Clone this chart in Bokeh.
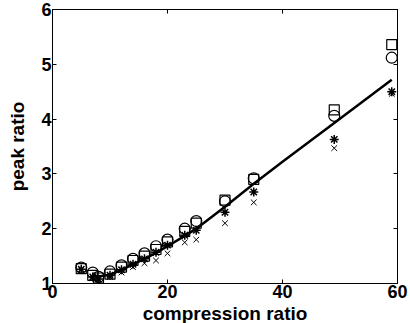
from bokeh.plotting import figure
from bokeh.models import LinearAxis, FixedTicker, Range1d
from bokeh.embed import file_html
from bokeh.resources import INLINE

cr = [5, 7, 8, 10, 12, 14, 16, 18, 20, 23, 25, 30, 35, 49, 59]
square_vals = [1.27, 1.15, 1.10, 1.17, 1.30, 1.42, 1.50, 1.62, 1.76, 1.95, 2.10, 2.52, 2.90, 4.17, 5.36]
circle_vals = [1.29, 1.20, 1.12, 1.22, 1.33, 1.45, 1.55, 1.68, 1.80, 2.00, 2.14, 2.50, 2.92, 4.06, 5.12]
star_vals = [1.26, 1.12, 1.08, 1.15, 1.25, 1.35, 1.45, 1.57, 1.70, 1.88, 1.97, 2.30, 2.67, 3.63, 4.50]
x_vals = [1.25, 1.10, 1.05, 1.12, 1.20, 1.30, 1.37, 1.42, 1.55, 1.75, 1.80, 2.10, 2.48, 3.47, 4.46]
fit_x = [7, 8, 10, 12, 14, 16, 18, 20, 23, 25, 30, 35, 40, 49, 59]
fit_y = [1.15, 1.13, 1.16, 1.25, 1.35, 1.45, 1.56, 1.68, 1.87, 2.00, 2.40, 2.82, 3.22, 3.93, 4.72]
x_ticks = [0, 20, 40, 60]
y_ticks = [1, 2, 3, 4, 5, 6]

FONT = "Liberation Sans"

p = figure(frame_width=345, frame_height=274, output_backend="svg", toolbar_location=None,
           x_range=Range1d(0, 60), y_range=Range1d(1, 6),
           min_border_left=52, min_border_right=13, min_border_top=9, min_border_bottom=40)
p.background_fill_color = "white"
p.border_fill_color = "white"
p.outline_line_color = "black"
p.outline_line_width = 1
p.xgrid.visible = False
p.ygrid.visible = False

p.line(fit_x, fit_y, line_color="black", line_width=2.5)
p.scatter(cr, square_vals, marker="square", size=10, fill_color=None, line_color="black", line_width=1.2)
p.scatter(cr, circle_vals, marker="circle", size=11, fill_color=None, line_color="black", line_width=1.2)
p.scatter(cr, star_vals, marker="asterisk", size=9, line_color="black", line_width=1.5)
p.scatter(cr, x_vals, marker="x", size=8, line_color="black", line_width=1)

for ax in (p.xaxis[0], p.yaxis[0]):
    ax.major_label_text_font = FONT
    ax.major_label_text_font_style = "bold"
    ax.major_label_text_font_size = "18px"
    ax.major_label_text_color = "black"
    ax.axis_label_text_font = FONT
    ax.axis_label_text_font_style = "bold"
    ax.axis_label_text_font_size = "19px"
    ax.axis_label_text_color = "black"
    ax.major_tick_in = 4
    ax.major_tick_out = 0
    ax.minor_tick_line_color = None
    ax.axis_line_color = "black"
    ax.major_label_standoff = 1

p.xaxis[0].axis_label_standoff = 2
p.yaxis[0].axis_label_standoff = 10
p.xaxis[0].ticker = FixedTicker(ticks=x_ticks)
p.yaxis[0].ticker = FixedTicker(ticks=y_ticks)
p.xaxis[0].axis_label = "compression ratio"
p.yaxis[0].axis_label = "peak ratio"

top = LinearAxis(ticker=FixedTicker(ticks=x_ticks),
                 major_label_overrides={t: "" for t in x_ticks},
                 major_tick_in=4, major_tick_out=0, minor_tick_line_color=None,
                 major_label_standoff=0)
right = LinearAxis(ticker=FixedTicker(ticks=y_ticks),
                   major_label_overrides={t: "" for t in y_ticks},
                   major_tick_in=4, major_tick_out=0, minor_tick_line_color=None,
                   major_label_standoff=0)
p.add_layout(top, "above")
p.add_layout(right, "right")

open("out.html", "w").write(file_html(p, INLINE))
